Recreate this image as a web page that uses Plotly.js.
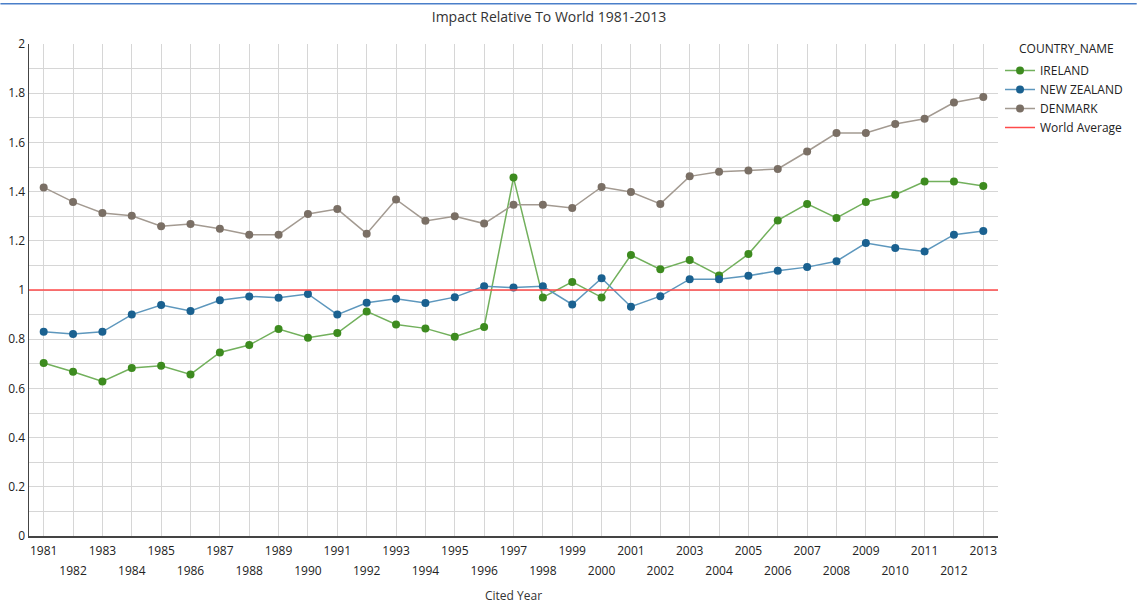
<!DOCTYPE html>
<html>
<head>
<meta charset="utf-8">
<script src="https://cdn.plot.ly/plotly-3.0.1.min.js"></script>
<style>html,body{margin:0;padding:0;background:#fff;}#chart{width:1137px;height:606px;}</style>
</head>
<body>
<div id="chart"></div>
<script>
const years = [1981,1982,1983,1984,1985,1986,1987,1988,1989,1990,1991,1992,1993,1994,1995,1996,1997,1998,1999,2000,2001,2002,2003,2004,2005,2006,2007,2008,2009,2010,2011,2012,2013];
const ireland = [0.703,0.668,0.628,0.683,0.692,0.657,0.746,0.776,0.841,0.806,0.825,0.913,0.860,0.844,0.810,0.850,1.457,0.970,1.033,0.970,1.142,1.084,1.122,1.059,1.146,1.283,1.350,1.293,1.358,1.387,1.441,1.441,1.423];
const newZealand = [0.830,0.821,0.830,0.900,0.939,0.915,0.958,0.974,0.969,0.984,0.900,0.948,0.964,0.947,0.971,1.015,1.010,1.015,0.941,1.048,0.932,0.975,1.044,1.044,1.058,1.078,1.093,1.117,1.191,1.171,1.157,1.225,1.240];
const denmark = [1.417,1.358,1.313,1.302,1.259,1.268,1.249,1.225,1.225,1.309,1.329,1.229,1.368,1.281,1.300,1.270,1.347,1.347,1.333,1.419,1.398,1.350,1.462,1.481,1.486,1.492,1.563,1.638,1.638,1.675,1.696,1.762,1.785];
const worldAverage = 1;
const oddYears = years.filter(y => y % 2 === 1);
const evenYears = years.filter(y => y % 2 === 0);
const oddLabels = oddYears.map(String);
const evenLabels = evenYears.map(String);
const xRange = [1980.5, 2013.5];

const FONT = 'Open Sans, Noto Sans, sans-serif';

function series(name, vals, lineColor, markerColor) {
  return {
    x: years, y: vals, name: name, type: 'scatter', mode: 'lines+markers',
    line: {color: lineColor, width: 1.5},
    marker: {color: markerColor, size: 8}
  };
}

const traces = [
  series('IRELAND', ireland, '#72b05c', '#3d8b1f'),
  series('NEW ZEALAND', newZealand, '#5d97bd', '#1a6190'),
  series('DENMARK', denmark, '#a39a91', '#7a6f65'),
  {
    x: xRange, y: [worldAverage, worldAverage], name: 'World Average',
    type: 'scatter', mode: 'lines', line: {color: '#ff4a4a', width: 1.5},
    xaxis: 'x2', yaxis: 'y'
  }
];

const tickFont = {family: FONT, size: 12, color: '#222'};

const layout = {
  width: 1137, height: 606,
  margin: {l: 28.6, r: 138.8, t: 44.3, b: 70},
  paper_bgcolor: '#fff', plot_bgcolor: '#fff',
  font: {family: FONT, size: 12, color: '#222'},
  title: {
    text: 'Impact Relative To World 1981-2013',
    font: {family: FONT, size: 14, color: '#333'},
    x: 549 / 1137, xref: 'container', xanchor: 'center',
    y: 1 - 17 / 606, yref: 'container', yanchor: 'middle'
  },
  xaxis: {
    range: xRange,
    tickmode: 'array', tickvals: oddYears, ticktext: oddLabels,
    showgrid: true, gridcolor: '#d6d6d6', gridwidth: 1,
    minor: {tickmode: 'array', tickvals: evenYears, showgrid: true, gridcolor: '#d6d6d6', gridwidth: 1, ticks: ''},
    zeroline: false, showline: true, linecolor: '#444', linewidth: 1.5,
    ticks: '', tickfont: tickFont, tickangle: 0, ticklabelstandoff: 3,
    fixedrange: true
  },
  xaxis2: {
    range: xRange, overlaying: 'x', side: 'bottom', anchor: 'y',
    tickmode: 'array', tickvals: evenYears, ticktext: evenLabels,
    showgrid: false, zeroline: false, showline: false,
    ticks: '', tickfont: tickFont, tickangle: 0, ticklabelstandoff: 26,
    fixedrange: true
  },
  yaxis: {
    range: [0, 2], dtick: 0.2, tick0: 0,
    showgrid: true, gridcolor: '#d6d6d6', gridwidth: 1,
    minor: {dtick: 0.1, showgrid: true, gridcolor: '#d6d6d6', gridwidth: 1},
    zeroline: false, showline: true, linecolor: '#444', linewidth: 1.5,
    ticks: '', tickfont: tickFont,
    fixedrange: true
  },
  showlegend: true,
  legend: {
    x: 1000 / 1137, xref: 'container', xanchor: 'left',
    y: 1 - 56 / 606, yref: 'container', yanchor: 'top',
    font: {family: FONT, size: 12, color: '#222'},
    tracegroupgap: 0, itemwidth: 30, bgcolor: 'rgba(0,0,0,0)'
  },
  annotations: [{
    text: 'COUNTRY_NAME', xref: 'paper', yref: 'paper',
    x: (1017 - 28.6) / 969.6, y: 1 - (49 - 44.3) / 491.7,
    xanchor: 'left', yanchor: 'middle', showarrow: false,
    font: {family: FONT, size: 12, color: '#222'}
  }, {
    text: 'Cited Year', xref: 'paper', yref: 'paper',
    x: 0.5, y: (535.7 - 595) / 491.4, xanchor: 'center', yanchor: 'middle', showarrow: false,
    font: {family: FONT, size: 12, color: '#333'}
  }],
  shapes: [{
    type: 'line', xref: 'paper', yref: 'paper',
    x0: -28.6 / 969.6, x1: (1137 - 28.6) / 969.6,
    y0: 1 + (44.3 - 4) / 491.7, y1: 1 + (44.3 - 4) / 491.7,
    line: {color: '#4a7fc9', width: 1.5}
  }]
};

Plotly.newPlot('chart', traces, layout, {displayModeBar: false, staticPlot: true});
</script>
</body>
</html>
